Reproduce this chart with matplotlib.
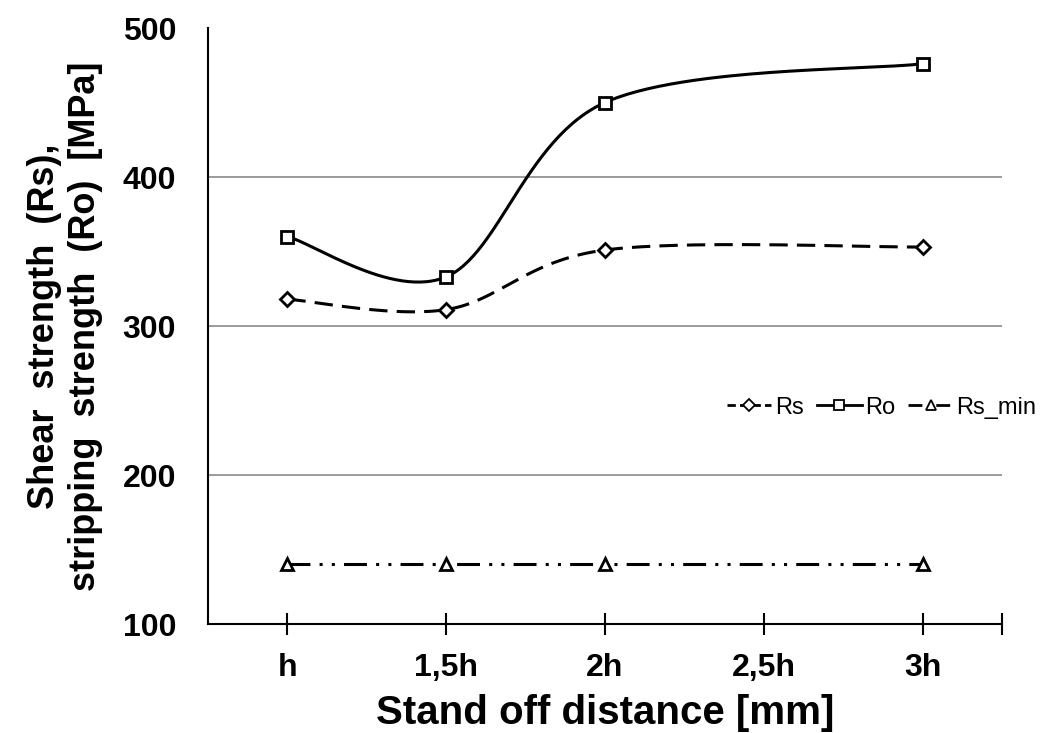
import numpy as np
import matplotlib
matplotlib.use("Agg")
import matplotlib.pyplot as plt
from matplotlib.lines import Line2D

# ---- data ----
categories = ['h', '1,5h', '2h', '2,5h', '3h']
point_cats = ['h', '1,5h', '2h', '3h']
rs_values = [318, 311, 351, 353]
ro_values = [360, 333, 450, 476]
rs_min_values = [140, 140, 140, 140]
y_ticks = [100, 200, 300, 400, 500]

plt.rcParams['font.family'] = ['Liberation Sans', 'DejaVu Sans']

def excel_smooth(xs, ys, n=60):
    xs = np.asarray(xs, float); ys = np.asarray(ys, float)
    P = np.column_stack([xs, ys])
    out = []
    for i in range(len(P) - 1):
        p0 = P[i - 1] if i > 0 else P[i]
        p1 = P[i]
        p2 = P[i + 1]
        p3 = P[i + 2] if i + 2 < len(P) else P[i + 1]
        c1 = p1 + (p2 - p0) / 6.0
        c2 = p2 - (p3 - p1) / 6.0
        t = np.linspace(0, 1, n)[:, None]
        seg = ((1 - t) ** 3) * p1 + 3 * ((1 - t) ** 2) * t * c1 + 3 * (1 - t) * t ** 2 * c2 + t ** 3 * p2
        out.append(seg if i == 0 else seg[1:])
    out = np.vstack(out)
    return out[:, 0], out[:, 1]

fig = plt.figure(figsize=(10.42, 7.33), dpi=100)
ax = fig.add_axes([0.1996, 0.1487, 0.7620, 0.8131])

xp = [categories.index(c) for c in point_cats]

lw = 2.2
rs_style = (0, (6, 3))
ro_style = '-'
rsmin_style = (0, (7.5, 3, 1, 3, 1, 3))

sx, sy = excel_smooth(xp, rs_values)
ax.plot(sx, sy, color='black', lw=lw, linestyle=rs_style, zorder=3)
ax.plot(xp, rs_values, linestyle='none', marker='D', ms=7, mfc='white', mec='black', mew=2, zorder=4)

sx, sy = excel_smooth(xp, ro_values)
ax.plot(sx, sy, color='black', lw=lw, linestyle=ro_style, zorder=3)
ax.plot(xp, ro_values, linestyle='none', marker='s', ms=9, mfc='white', mec='black', mew=2, zorder=4)

ax.plot(xp, rs_min_values, color='black', lw=lw, linestyle=rsmin_style, zorder=3)
ax.plot(xp, rs_min_values, linestyle='none', marker='^', ms=9, mfc='white', mec='black', mew=2, zorder=4)

ax.set_xlim(-0.5, len(categories) - 0.5)
ax.set_ylim(100, 500)
ax.set_yticks(y_ticks)
ax.set_yticklabels([str(v) for v in y_ticks], fontsize=23, fontweight='bold')
ax.tick_params(axis='y', length=0, pad=23)
ax.set_xticks(list(range(len(categories))) + [len(categories) - 0.5])
ax.set_xticklabels(categories + [''], fontsize=23, fontweight='bold')
ax.tick_params(axis='x', direction='inout', length=16, width=1.5, pad=13)

for v in [200, 300, 400]:
    ax.axhline(v, color='#8a8a8a', lw=1.2, zorder=1)

for s in ['top', 'right']:
    ax.spines[s].set_visible(False)
for s in ['left', 'bottom']:
    ax.spines[s].set_linewidth(1.5)
    ax.spines[s].set_color('black')

ax.set_xlabel('Stand off distance [mm]', fontsize=29, fontweight='bold', labelpad=8)
ax.set_ylabel('Shear  strength  (Rs),\nstripping  strength  (Ro)  [MPa]', fontsize=26,
              fontweight='bold', labelpad=14, linespacing=1.22)

handles = [
    Line2D([], [], color='black', lw=2, linestyle=(0, (3, 1.5)), marker='D', ms=6, mfc='white', mec='black', mew=1.3),
    Line2D([], [], color='black', lw=2, linestyle='-', marker='s', ms=7, mfc='white', mec='black', mew=1.3),
    Line2D([], [], color='black', lw=2, linestyle=(0, (5, 2, 1, 2)), marker='^', ms=7, mfc='white', mec='black', mew=1.3),
]
fig.legend(handles, ['Rs', 'Ro', 'Rs_min'], loc='center', bbox_to_anchor=(0.846, 0.444),
           ncol=3, frameon=False, fontsize=17, handlelength=1.9, handletextpad=0.15,
           columnspacing=0.55, borderpad=0, borderaxespad=0)

fig.savefig('out.png', dpi=100)
